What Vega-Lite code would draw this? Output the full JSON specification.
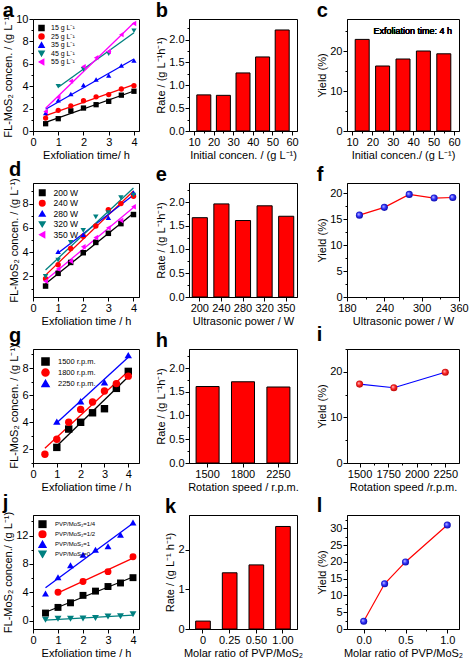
{
"$schema": "https://vega.github.io/schema/vega-lite/v6.json",
"padding": {"left": 2, "top": 0, "right": 5, "bottom": 0},
"background": "white",
"config": {
 "font": "Liberation Sans",
 "view": {"stroke": "black", "strokeWidth": 1},
 "axis": {"domainColor": "black", "tickColor": "black", "labelColor": "black", "titleColor": "black", "labelFontSize": 11, "titleFontSize": 11, "titleFontWeight": "normal", "grid": false, "tickSize": 4, "labelPadding": 1, "titlePadding": 2, "labelFlush": false, "labelOverlap": false},
 "title": {"fontSize": 20, "fontWeight": "bold", "anchor": "start", "frame": "bounds", "offset": -2, "color": "black"},
 "legend": {"labelColor": "black"}
},
"datasets": {
 "a": [
  {"s":"15 g L⁻¹","x":0.5,"y":0.65},{"s":"15 g L⁻¹","x":1,"y":1.1},{"s":"15 g L⁻¹","x":1.5,"y":1.8},{"s":"15 g L⁻¹","x":2,"y":2.05},{"s":"15 g L⁻¹","x":2.5,"y":2.35},{"s":"15 g L⁻¹","x":3,"y":2.65},{"s":"15 g L⁻¹","x":3.5,"y":3.2},{"s":"15 g L⁻¹","x":4,"y":3.55},
  {"s":"25 g L⁻¹","x":0.5,"y":1.15},{"s":"25 g L⁻¹","x":1,"y":1.85},{"s":"25 g L⁻¹","x":1.5,"y":2.25},{"s":"25 g L⁻¹","x":2,"y":2.7},{"s":"25 g L⁻¹","x":2.5,"y":3.05},{"s":"25 g L⁻¹","x":3,"y":3.25},{"s":"25 g L⁻¹","x":3.5,"y":3.75},{"s":"25 g L⁻¹","x":4,"y":4.05},
  {"s":"35 g L⁻¹","x":0.5,"y":1.6},{"s":"35 g L⁻¹","x":1,"y":2.75},{"s":"35 g L⁻¹","x":1.5,"y":3.3},{"s":"35 g L⁻¹","x":2,"y":4.1},{"s":"35 g L⁻¹","x":2.5,"y":4.6},{"s":"35 g L⁻¹","x":3,"y":4.95},{"s":"35 g L⁻¹","x":3.5,"y":5.85},{"s":"35 g L⁻¹","x":4,"y":6.3},
  {"s":"45 g L⁻¹","x":1,"y":4.0},{"s":"45 g L⁻¹","x":2,"y":5.5},{"s":"45 g L⁻¹","x":3,"y":6.9},{"s":"45 g L⁻¹","x":4,"y":8.95},
  {"s":"55 g L⁻¹","x":0.5,"y":1.75},{"s":"55 g L⁻¹","x":1,"y":3.0},{"s":"55 g L⁻¹","x":1.5,"y":4.45},{"s":"55 g L⁻¹","x":2,"y":5.75},{"s":"55 g L⁻¹","x":2.5,"y":6.55},{"s":"55 g L⁻¹","x":3,"y":7.1},{"s":"55 g L⁻¹","x":3.5,"y":8.6},{"s":"55 g L⁻¹","x":4,"y":9.6}
 ],
 "b": [{"x":15,"y":0.79},{"x":25,"y":0.78},{"x":35,"y":1.27},{"x":45,"y":1.62},{"x":55,"y":2.21}],
 "c": [{"x":15,"y":22.9},{"x":25,"y":16.25},{"x":35,"y":18.0},{"x":45,"y":20.0},{"x":55,"y":19.3}],
 "d": [
  {"s":"200 W","x":0.5,"y":1.2},{"s":"200 W","x":1,"y":2.25},{"s":"200 W","x":1.5,"y":3.15},{"s":"200 W","x":2,"y":3.95},{"s":"200 W","x":2.5,"y":4.8},{"s":"200 W","x":3,"y":5.55},{"s":"200 W","x":3.5,"y":6.35},{"s":"200 W","x":4,"y":7.1},
  {"s":"240 W","x":0.5,"y":1.8},{"s":"240 W","x":1,"y":2.95},{"s":"240 W","x":1.5,"y":4.3},{"s":"240 W","x":2,"y":5.3},{"s":"240 W","x":2.5,"y":6.15},{"s":"240 W","x":3,"y":7.5},{"s":"240 W","x":3.5,"y":8.0},{"s":"240 W","x":4,"y":8.6},
  {"s":"280 W","x":1,"y":4.05},{"s":"280 W","x":2,"y":5.45},{"s":"280 W","x":3,"y":6.85},{"s":"280 W","x":4,"y":8.9},
  {"s":"320 W","x":0.5,"y":2.0},{"s":"320 W","x":1,"y":3.35},{"s":"320 W","x":1.5,"y":4.8},{"s":"320 W","x":2,"y":5.8},{"s":"320 W","x":2.5,"y":6.9},{"s":"320 W","x":3,"y":7.25},{"s":"320 W","x":3.5,"y":8.5},{"s":"320 W","x":4,"y":8.7},
  {"s":"350 W","x":0.5,"y":1.6},{"s":"350 W","x":1,"y":2.6},{"s":"350 W","x":1.5,"y":3.25},{"s":"350 W","x":2,"y":4.45},{"s":"350 W","x":2.5,"y":5.2},{"s":"350 W","x":3,"y":6.0},{"s":"350 W","x":3.5,"y":6.6},{"s":"350 W","x":4,"y":7.75}
 ],
 "e": [{"x":"200","y":1.67},{"x":"240","y":1.96},{"x":"280","y":1.61},{"x":"320","y":1.92},{"x":"350","y":1.7}],
 "f": [{"x":200,"y":15.8},{"x":240,"y":17.3},{"x":280,"y":19.8},{"x":320,"y":19.1},{"x":350,"y":19.2}],
 "g": [
  {"s":"1500 r.p.m.","x":1,"y":2.15},{"s":"1500 r.p.m.","x":1.5,"y":3.5},{"s":"1500 r.p.m.","x":2,"y":4.0},{"s":"1500 r.p.m.","x":2.5,"y":4.7},{"s":"1500 r.p.m.","x":3,"y":5.0},{"s":"1500 r.p.m.","x":3.5,"y":6.5},{"s":"1500 r.p.m.","x":4,"y":7.75},
  {"s":"1800 r.p.m.","x":0.5,"y":1.65},{"s":"1800 r.p.m.","x":1,"y":2.75},{"s":"1800 r.p.m.","x":1.5,"y":4.0},{"s":"1800 r.p.m.","x":2,"y":4.95},{"s":"1800 r.p.m.","x":2.5,"y":5.5},{"s":"1800 r.p.m.","x":3,"y":6.3},{"s":"1800 r.p.m.","x":3.5,"y":6.85},{"s":"1800 r.p.m.","x":4,"y":7.4},
  {"s":"2250 r.p.m.","x":1,"y":4.05},{"s":"2250 r.p.m.","x":2,"y":5.55},{"s":"2250 r.p.m.","x":3,"y":6.95},{"s":"2250 r.p.m.","x":4,"y":8.95}
 ],
 "h": [{"x":"1500","y":1.61},{"x":"1800","y":1.71},{"x":"2250","y":1.6}],
 "i": [{"x":1500,"y":17.3},{"x":1800,"y":16.5},{"x":2250,"y":19.9}],
 "j": [
  {"s":"PVP/MoS₂=1/4","x":0.5,"y":1.05},{"s":"PVP/MoS₂=1/4","x":1,"y":1.85},{"s":"PVP/MoS₂=1/4","x":1.5,"y":2.5},{"s":"PVP/MoS₂=1/4","x":2,"y":3.55},{"s":"PVP/MoS₂=1/4","x":2.5,"y":4.15},{"s":"PVP/MoS₂=1/4","x":3,"y":4.8},{"s":"PVP/MoS₂=1/4","x":3.5,"y":5.3},{"s":"PVP/MoS₂=1/4","x":4,"y":6.05},
  {"s":"PVP/MoS₂=1/2","x":1,"y":4.0},{"s":"PVP/MoS₂=1/2","x":2,"y":5.5},{"s":"PVP/MoS₂=1/2","x":3,"y":6.9},{"s":"PVP/MoS₂=1/2","x":4,"y":9.0},
  {"s":"PVP/MoS₂=1","x":0.5,"y":3.8},{"s":"PVP/MoS₂=1","x":1,"y":6.1},{"s":"PVP/MoS₂=1","x":1.5,"y":7.8},{"s":"PVP/MoS₂=1","x":2,"y":9.3},{"s":"PVP/MoS₂=1","x":2.5,"y":10.0},{"s":"PVP/MoS₂=1","x":3,"y":10.5},{"s":"PVP/MoS₂=1","x":3.5,"y":12.1},{"s":"PVP/MoS₂=1","x":4,"y":13.85},
  {"s":"PVP/MoS₂=0","x":0.5,"y":0.1},{"s":"PVP/MoS₂=0","x":1,"y":0.25},{"s":"PVP/MoS₂=0","x":1.5,"y":0.25},{"s":"PVP/MoS₂=0","x":2,"y":0.3},{"s":"PVP/MoS₂=0","x":2.5,"y":0.35},{"s":"PVP/MoS₂=0","x":3,"y":0.55},{"s":"PVP/MoS₂=0","x":3.5,"y":0.6},{"s":"PVP/MoS₂=0","x":4,"y":0.9}
 ],
 "k": [{"x":"0","y":0.2},{"x":"0.25","y":1.42},{"x":"0.50","y":1.62},{"x":"1.00","y":2.59}],
 "l": [{"x":0,"y":2.3},{"x":0.25,"y":13.5},{"x":0.5,"y":20.0},{"x":1.0,"y":31.0}]
},
"concat": [
  {"title": {"text": "a", "offset": -8}, "width": 106, "height": 112, "data": {"name": "a"},
   "encoding": {
    "x": {"field": "x", "type": "quantitative", "scale": {"domain": [0, 4.2], "nice": false}, "axis": {"values": [0,0.5,1,1.5,2,2.5,3,3.5,4], "format": "d", "labelExpr": "abs(datum.value/1 - round(datum.value/1)) < 1e-6 ? datum.label : ''", "tickSize": {"condition": {"test": "abs(datum.value/1 - round(datum.value/1)) < 1e-6", "value": 4}, "value": 2}, "title": "Exfoliation time/ h"}},
    "y": {"field": "y", "type": "quantitative", "scale": {"domain": [0, 10], "nice": false}, "axis": {"values": [0,1,2,3,4,5,6,7,8,9,10], "format": "d", "labelExpr": "abs(datum.value/2 - round(datum.value/2)) < 1e-6 ? datum.label : ''", "tickSize": {"condition": {"test": "abs(datum.value/2 - round(datum.value/2)) < 1e-6", "value": 4}, "value": 2}, "title": "FL-MoS₂ concen. / (g L⁻¹)"}},
    "color": {"field": "s", "type": "nominal", "scale": {"domain": ["15 g L⁻¹","25 g L⁻¹","35 g L⁻¹","45 g L⁻¹","55 g L⁻¹"], "range": ["#000000","#ff0000","#0000ff","#008080","#ff00ff"]}, "legend": {"title": null, "orient": "top-left", "offset": 5, "labelFontSize": 7, "symbolSize": 25, "clipHeight": 8, "rowPadding": 0.5, "padding": 0, "labelOffset": 6}}
   },
   "layer": [
    {"transform": [{"regression": "y", "on": "x", "groupby": ["s"]}], "mark": {"type": "line", "strokeWidth": 1.3}},
    {"mark": {"type": "point", "filled": true, "size": 28, "opacity": 1},
     "encoding": {
      "shape": {"field": "s", "type": "nominal", "scale": {"domain": ["15 g L⁻¹","25 g L⁻¹","35 g L⁻¹","45 g L⁻¹","55 g L⁻¹"], "range": ["square","circle","triangle-up","triangle-down","triangle-left"]}, "legend": {"title": null, "orient": "top-left", "offset": 5, "labelFontSize": 7, "symbolSize": 25, "clipHeight": 8, "rowPadding": 0.5, "padding": 0, "labelOffset": 6}}
     }}
   ]},
  {"title": "b", "width": 108, "height": 112, "data": {"name": "b"},
   "mark": {"type": "bar", "width": 14, "fill": "#ff0000", "stroke": "black", "strokeWidth": 1},
   "encoding": {
    "x": {"field": "x", "type": "quantitative", "scale": {"domain": [10, 60], "nice": false}, "axis": {"values": [10,15,20,25,30,35,40,45,50,55,60], "format": "d", "labelExpr": "abs(datum.value/10 - round(datum.value/10)) < 1e-6 ? datum.label : ''", "tickSize": {"condition": {"test": "abs(datum.value/10 - round(datum.value/10)) < 1e-6", "value": 4}, "value": 2}, "title": "Initial concen. / (g L⁻¹)"}},
    "y": {"field": "y", "type": "quantitative", "scale": {"domain": [0, 2.45], "nice": false}, "axis": {"values": [0,0.25,0.5,0.75,1,1.25,1.5,1.75,2,2.25], "format": ".1f", "labelExpr": "abs(datum.value/0.5 - round(datum.value/0.5)) < 1e-6 ? datum.label : ''", "tickSize": {"condition": {"test": "abs(datum.value/0.5 - round(datum.value/0.5)) < 1e-6", "value": 4}, "value": 2}, "title": "Rate / (g L⁻¹h⁻¹)"}}
   }},
  {"title": "c", "width": 112, "height": 112, "data": {"name": "c"},
   "encoding": {
    "x": {"field": "x", "type": "quantitative", "scale": {"domain": [10, 60], "nice": false}, "axis": {"values": [10,15,20,25,30,35,40,45,50,55,60], "format": "d", "labelExpr": "abs(datum.value/10 - round(datum.value/10)) < 1e-6 ? datum.label : ''", "tickSize": {"condition": {"test": "abs(datum.value/10 - round(datum.value/10)) < 1e-6", "value": 4}, "value": 2}, "title": "Initial concen./ (g L⁻¹)"}},
    "y": {"field": "y", "type": "quantitative", "scale": {"domain": [0, 28], "nice": false}, "axis": {"values": [0,5,10,15,20,25], "format": "d", "labelExpr": "abs(datum.value/10 - round(datum.value/10)) < 1e-6 ? datum.label : ''", "tickSize": {"condition": {"test": "abs(datum.value/10 - round(datum.value/10)) < 1e-6", "value": 4}, "value": 2}, "title": "Yield (%)"}}
   },
   "layer": [
    {"mark": {"type": "bar", "width": 14, "fill": "#ff0000", "stroke": "black", "strokeWidth": 1}},
    {"mark": {"type": "text", "fontSize": 9, "align": "right", "baseline": "middle", "color": "black"},
     "encoding": {"x": {"datum": 59}, "y": {"datum": 25}, "text": {"value": "Exfoliation time: 4 h"}}}
   ]},
  {"title": "d", "width": 106, "height": 114, "data": {"name": "d"},
   "encoding": {
    "x": {"field": "x", "type": "quantitative", "scale": {"domain": [0, 4.22], "nice": false}, "axis": {"values": [0,0.5,1,1.5,2,2.5,3,3.5,4], "format": "d", "labelExpr": "abs(datum.value/1 - round(datum.value/1)) < 1e-6 ? datum.label : ''", "tickSize": {"condition": {"test": "abs(datum.value/1 - round(datum.value/1)) < 1e-6", "value": 4}, "value": 2}, "title": "Exfoliation time / h"}},
    "y": {"field": "y", "type": "quantitative", "scale": {"domain": [0.3, 9.7], "nice": false}, "axis": {"values": [1,2,3,4,5,6,7,8,9], "format": "d", "labelExpr": "abs(datum.value/2 - round(datum.value/2)) < 1e-6 ? datum.label : ''", "tickSize": {"condition": {"test": "abs(datum.value/2 - round(datum.value/2)) < 1e-6", "value": 4}, "value": 2}, "title": "FL-MoS₂ concen. / (g L⁻¹)"}},
    "color": {"field": "s", "type": "nominal", "scale": {"domain": ["200 W","240 W","280 W","320 W","350 W"], "range": ["#000000","#ff0000","#0000ff","#008080","#ff00ff"]}, "legend": {"title": null, "orient": "top-left", "offset": 5, "labelFontSize": 8.5, "symbolSize": 30, "clipHeight": 9.5, "rowPadding": 0.5, "padding": 0, "labelOffset": 7}}
   },
   "layer": [
    {"transform": [{"regression": "y", "on": "x", "groupby": ["s"]}], "mark": {"type": "line", "strokeWidth": 1.3}},
    {"mark": {"type": "point", "filled": true, "size": 30, "opacity": 1},
     "encoding": {
      "shape": {"field": "s", "type": "nominal", "scale": {"domain": ["200 W","240 W","280 W","320 W","350 W"], "range": ["square","circle","triangle-up","triangle-down","triangle-left"]}, "legend": {"title": null, "orient": "top-left", "offset": 5, "labelFontSize": 8.5, "symbolSize": 30, "clipHeight": 9.5, "rowPadding": 0.5, "padding": 0, "labelOffset": 7}}
     }}
   ]},
  {"title": "e", "width": 108, "height": 114, "data": {"name": "e"},
   "mark": {"type": "bar", "fill": "#ff0000", "stroke": "black", "strokeWidth": 1},
   "encoding": {
    "x": {"field": "x", "type": "ordinal", "sort": null, "scale": {"paddingInner": 0.3, "paddingOuter": 0.15}, "axis": {"labelAngle": 0, "title": "Ultrasonic power / W"}},
    "y": {"field": "y", "type": "quantitative", "scale": {"domain": [0, 2.4], "nice": false}, "axis": {"values": [0,0.25,0.5,0.75,1,1.25,1.5,1.75,2,2.25], "format": ".1f", "labelExpr": "abs(datum.value/0.5 - round(datum.value/0.5)) < 1e-6 ? datum.label : ''", "tickSize": {"condition": {"test": "abs(datum.value/0.5 - round(datum.value/0.5)) < 1e-6", "value": 4}, "value": 2}, "title": "Rate / (g L⁻¹h⁻¹)"}}
   }},
  {"title": "f", "width": 112, "height": 114, "data": {"name": "f"},
   "encoding": {
    "x": {"field": "x", "type": "quantitative", "scale": {"domain": [180, 360], "nice": false}, "axis": {"values": [180,210,240,270,300,330,360], "format": "d", "labelExpr": "abs(datum.value/60 - round(datum.value/60)) < 1e-6 ? datum.label : ''", "tickSize": {"condition": {"test": "abs(datum.value/60 - round(datum.value/60)) < 1e-6", "value": 4}, "value": 2}, "title": "Ultrasonic power / W"}},
    "y": {"field": "y", "type": "quantitative", "scale": {"domain": [0, 22], "nice": false}, "axis": {"values": [0,2.5,5,7.5,10,12.5,15,17.5,20], "format": "d", "labelExpr": "abs(datum.value/5 - round(datum.value/5)) < 1e-6 ? datum.label : ''", "tickSize": {"condition": {"test": "abs(datum.value/5 - round(datum.value/5)) < 1e-6", "value": 4}, "value": 2}, "title": "Yield (%)"}}
   },
   "layer": [
    {"mark": {"type": "line", "color": "#ff0000", "strokeWidth": 1.2}},
    {"mark": {"type": "point", "shape": "circle", "filled": true, "size": 50, "opacity": 1, "fill": {"gradient": "radial", "x1": 0.35, "y1": 0.35, "r1": 0, "x2": 0.5, "y2": 0.5, "r2": 0.55, "stops": [{"offset": 0, "color": "#d8d8ff"}, {"offset": 0.45, "color": "#3a3aff"}, {"offset": 1, "color": "#0000a0"}]}}}
   ]},
  {"title": "g", "width": 106, "height": 114, "data": {"name": "g"},
   "encoding": {
    "x": {"field": "x", "type": "quantitative", "scale": {"domain": [0, 4.45], "nice": false}, "axis": {"values": [0,0.5,1,1.5,2,2.5,3,3.5,4], "format": "d", "labelExpr": "abs(datum.value/1 - round(datum.value/1)) < 1e-6 ? datum.label : ''", "tickSize": {"condition": {"test": "abs(datum.value/1 - round(datum.value/1)) < 1e-6", "value": 4}, "value": 2}, "title": "Exfoliation time / h"}},
    "y": {"field": "y", "type": "quantitative", "scale": {"domain": [1, 9.4], "nice": false}, "axis": {"values": [1,2,3,4,5,6,7,8,9], "format": "d", "labelExpr": "abs(datum.value/2 - round(datum.value/2)) < 1e-6 ? datum.label : ''", "tickSize": {"condition": {"test": "abs(datum.value/2 - round(datum.value/2)) < 1e-6", "value": 4}, "value": 2}, "title": "FL-MoS₂ concen. / (g L⁻¹)"}},
    "color": {"field": "s", "type": "nominal", "scale": {"domain": ["1500 r.p.m.","1800 r.p.m.","2250 r.p.m."], "range": ["#000000","#ff0000","#0000ff"]}, "legend": {"title": null, "orient": "top-left", "offset": 8, "labelFontSize": 7.5, "symbolSize": 50, "clipHeight": 9, "rowPadding": 2, "padding": 0, "labelOffset": 8}}
   },
   "layer": [
    {"transform": [{"regression": "y", "on": "x", "groupby": ["s"]}], "mark": {"type": "line", "strokeWidth": 1.3}},
    {"mark": {"type": "point", "filled": true, "size": 55, "opacity": 1},
     "encoding": {
      "shape": {"field": "s", "type": "nominal", "scale": {"domain": ["1500 r.p.m.","1800 r.p.m.","2250 r.p.m."], "range": ["square","circle","triangle-up"]}, "legend": {"title": null, "orient": "top-left", "offset": 8, "labelFontSize": 7.5, "symbolSize": 50, "clipHeight": 9, "rowPadding": 2, "padding": 0, "labelOffset": 8}}
     }}
   ]},
  {"title": "h", "width": 108, "height": 114, "data": {"name": "h"},
   "mark": {"type": "bar", "fill": "#ff0000", "stroke": "black", "strokeWidth": 1},
   "encoding": {
    "x": {"field": "x", "type": "ordinal", "sort": null, "scale": {"paddingInner": 0.35, "paddingOuter": 0.2}, "axis": {"labelAngle": 0, "title": "Rotation speed / r.p.m."}},
    "y": {"field": "y", "type": "quantitative", "scale": {"domain": [0, 2.4], "nice": false}, "axis": {"values": [0,0.25,0.5,0.75,1,1.25,1.5,1.75,2,2.25], "format": ".1f", "labelExpr": "abs(datum.value/0.5 - round(datum.value/0.5)) < 1e-6 ? datum.label : ''", "tickSize": {"condition": {"test": "abs(datum.value/0.5 - round(datum.value/0.5)) < 1e-6", "value": 4}, "value": 2}, "title": "Rate / (g L⁻¹h⁻¹)"}}
   }},
  {"title": "i", "width": 112, "height": 114, "data": {"name": "i"},
   "encoding": {
    "x": {"field": "x", "type": "quantitative", "scale": {"domain": [1390, 2370], "nice": false}, "axis": {"values": [1500,1625,1750,1875,2000,2125,2250], "format": "d", "labelExpr": "abs(datum.value/250 - round(datum.value/250)) < 1e-6 ? datum.label : ''", "tickSize": {"condition": {"test": "abs(datum.value/250 - round(datum.value/250)) < 1e-6", "value": 4}, "value": 2}, "title": "Rotation speed /r.p.m."}},
    "y": {"field": "y", "type": "quantitative", "scale": {"domain": [0, 25], "nice": false}, "axis": {"values": [0,5,10,15,20,25], "format": "d", "labelExpr": "abs(datum.value/10 - round(datum.value/10)) < 1e-6 ? datum.label : ''", "tickSize": {"condition": {"test": "abs(datum.value/10 - round(datum.value/10)) < 1e-6", "value": 4}, "value": 2}, "title": "Yield (%)"}}
   },
   "layer": [
    {"mark": {"type": "line", "color": "#0000ff", "strokeWidth": 1.2}},
    {"mark": {"type": "point", "shape": "circle", "filled": true, "size": 50, "opacity": 1, "fill": {"gradient": "radial", "x1": 0.35, "y1": 0.35, "r1": 0, "x2": 0.5, "y2": 0.5, "r2": 0.55, "stops": [{"offset": 0, "color": "#ffd8d8"}, {"offset": 0.45, "color": "#ff2a2a"}, {"offset": 1, "color": "#b00000"}]}}}
   ]},
  {"title": "j", "width": 106, "height": 114, "data": {"name": "j"},
   "encoding": {
    "x": {"field": "x", "type": "quantitative", "scale": {"domain": [0, 4.24], "nice": false}, "axis": {"values": [0,0.5,1,1.5,2,2.5,3,3.5,4], "format": "d", "labelExpr": "abs(datum.value/1 - round(datum.value/1)) < 1e-6 ? datum.label : ''", "tickSize": {"condition": {"test": "abs(datum.value/1 - round(datum.value/1)) < 1e-6", "value": 4}, "value": 2}, "title": "Exfoliation time / h"}},
    "y": {"field": "y", "type": "quantitative", "scale": {"domain": [-1.2, 14.9], "nice": false}, "axis": {"values": [0,2,4,6,8,10,12,14], "format": "d", "labelExpr": "abs(datum.value/4 - round(datum.value/4)) < 1e-6 ? datum.label : ''", "tickSize": {"condition": {"test": "abs(datum.value/4 - round(datum.value/4)) < 1e-6", "value": 4}, "value": 2}, "title": "FL-MoS₂ concen./ (g L⁻¹)"}},
    "color": {"field": "s", "type": "nominal", "scale": {"domain": ["PVP/MoS₂=1/4","PVP/MoS₂=1/2","PVP/MoS₂=1","PVP/MoS₂=0"], "range": ["#000000","#ff0000","#0000ff","#008080"]}, "legend": {"title": null, "orient": "top-left", "offset": 5, "labelFontSize": 6, "symbolSize": 45, "clipHeight": 8.5, "rowPadding": 1, "padding": 0, "labelOffset": 8}}
   },
   "layer": [
    {"transform": [{"regression": "y", "on": "x", "groupby": ["s"]}], "mark": {"type": "line", "strokeWidth": 1.3}},
    {"mark": {"type": "point", "filled": true, "size": 48, "opacity": 1},
     "encoding": {
      "shape": {"field": "s", "type": "nominal", "scale": {"domain": ["PVP/MoS₂=1/4","PVP/MoS₂=1/2","PVP/MoS₂=1","PVP/MoS₂=0"], "range": ["square","circle","triangle-up","triangle-down"]}, "legend": {"title": null, "orient": "top-left", "offset": 5, "labelFontSize": 6, "symbolSize": 45, "clipHeight": 8.5, "rowPadding": 1, "padding": 0, "labelOffset": 8}}
     }}
   ]},
  {"title": "k", "width": 108, "height": 114, "data": {"name": "k"},
   "mark": {"type": "bar", "fill": "#ff0000", "stroke": "black", "strokeWidth": 1},
   "encoding": {
    "x": {"field": "x", "type": "ordinal", "sort": null, "scale": {"paddingInner": 0.45, "paddingOuter": 0.25}, "axis": {"labelAngle": 0, "title": "Molar ratio of PVP/MoS₂"}},
    "y": {"field": "y", "type": "quantitative", "scale": {"domain": [0, 2.88], "nice": false}, "axis": {"values": [0,0.5,1,1.5,2,2.5], "format": "d", "labelExpr": "abs(datum.value/1 - round(datum.value/1)) < 1e-6 ? datum.label : ''", "tickSize": {"condition": {"test": "abs(datum.value/1 - round(datum.value/1)) < 1e-6", "value": 4}, "value": 2}, "title": "Rate / (g L⁻¹ h⁻¹)"}}
   }},
  {"title": "l", "width": 112, "height": 114, "data": {"name": "l"},
   "encoding": {
    "x": {"field": "x", "type": "quantitative", "scale": {"domain": [-0.2, 1.14], "nice": false}, "axis": {"values": [0,0.25,0.5,0.75,1], "format": ".1f", "labelExpr": "abs(datum.value/0.5 - round(datum.value/0.5)) < 1e-6 ? datum.label : ''", "tickSize": {"condition": {"test": "abs(datum.value/0.5 - round(datum.value/0.5)) < 1e-6", "value": 4}, "value": 2}, "title": "Molar ratio of PVP/MoS₂"}},
    "y": {"field": "y", "type": "quantitative", "scale": {"domain": [0, 34], "nice": false}, "axis": {"values": [0,2.5,5,7.5,10,12.5,15,17.5,20,22.5,25,27.5,30,32.5], "format": "d", "labelExpr": "abs(datum.value/5 - round(datum.value/5)) < 1e-6 ? datum.label : ''", "tickSize": {"condition": {"test": "abs(datum.value/5 - round(datum.value/5)) < 1e-6", "value": 4}, "value": 2}, "title": "Yield (%)"}}
   },
   "layer": [
    {"mark": {"type": "line", "color": "#ff0000", "strokeWidth": 1.2}},
    {"mark": {"type": "point", "shape": "circle", "filled": true, "size": 50, "opacity": 1, "fill": {"gradient": "radial", "x1": 0.35, "y1": 0.35, "r1": 0, "x2": 0.5, "y2": 0.5, "r2": 0.55, "stops": [{"offset": 0, "color": "#d8d8ff"}, {"offset": 0.45, "color": "#3a3aff"}, {"offset": 1, "color": "#0000a0"}]}}}
   ]}
],
"columns": 3,
"spacing": {"row": 52, "column": 50},
"bounds": "flush",
"align": "each",
"resolve": {"scale": {"color": "independent", "shape": "independent", "stroke": "independent"}}
}
